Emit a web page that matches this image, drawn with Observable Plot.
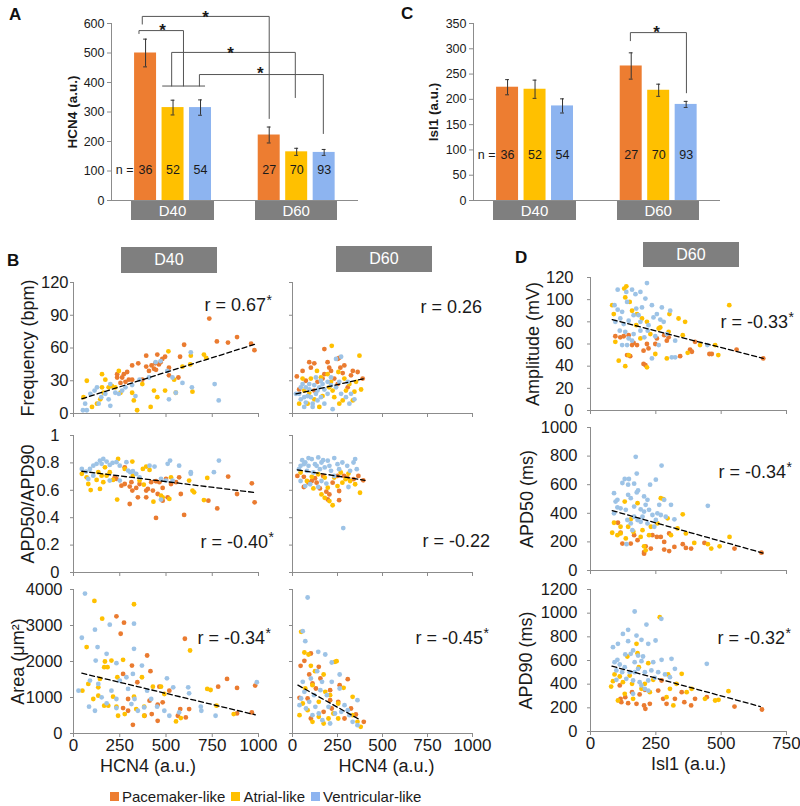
<!DOCTYPE html>
<html><head><meta charset="utf-8">
<script src="https://cdn.jsdelivr.net/npm/d3@7"></script>
<script src="https://cdn.jsdelivr.net/npm/@observablehq/plot@0.6"></script>
<style>
body{margin:0;background:#fff;}
#root{position:relative;width:800px;height:806px;font-family:Arial,"Liberation Sans",sans-serif;overflow:hidden;background:#fff;}
.box{position:absolute;background:#7f7f7f;color:#fff;display:flex;align-items:center;justify-content:center;}
.lab{position:absolute;font-weight:bold;font-size:17px;color:#111;}
</style></head><body><div id="root"></div><script>
// ---------- data ----------
const groups = ["D40", "D60"];
const cellTypes = ["Pacemaker-like", "Atrial-like", "Ventricular-like"];
const nCells = [36, 52, 54, 27, 70, 93];
const hcn4Mean = [500, 315, 315, 222, 165, 163];
const hcn4Err = [47, 25, 26, 27, 12, 10];
const isl1Mean = [224, 220, 187, 266, 218, 190];
const isl1Err = [15, 18, 14, 26, 12, 6];
// significance brackets: [slot, value] polylines
const hcn4Brackets = [
  [[-0.12, 598], [-0.12, 624], [4.5, 624], [4.5, 278]],
  [[-0.24, 566], [-0.24, 576], [1.38, 576], [1.38, 388]],
  [[0.95, 388], [0.95, 502], [5.45, 502], [5.45, 349]],
  [[1.96, 388], [1.96, 427], [6.47, 427], [6.47, 227]],
  [[0.62, 388], [2.15, 388]]
];
const hcn4Stars = [[2.18, 637], [0.62, 593], [3.09, 515], [4.18, 447]];
const isl1Brackets = [[[4.47, 316], [4.47, 332], [6.51, 332], [6.51, 213]]];
const isl1Stars = [[5.42, 342]];

const freqD40_P = [[734,87],[775,66],[835,65],[884,70],[960,64],[978,58],[598,63],[576,52],[453,54],[393,53],[480,50],[495,52],[393,43],[422,44],[350,46],[317,44],[290,38],[272,36],[263,33],[299,31],[236,33],[254,28],[408,39],[435,41],[446,40],[462,45],[471,47],[516,35],[567,33],[516,42],[236,36],[281,29],[317,31],[372,31],[442,46]];
const freqD40_A = [[72,30],[54,15],[100,6],[154,36],[172,31],[154,24],[190,24],[145,13],[208,25],[245,39],[226,24],[254,19],[317,19],[326,12],[344,3],[372,27],[435,21],[453,15],[417,6],[513,57],[495,21],[553,19],[589,43],[631,45],[643,20],[634,53],[705,54],[717,51],[544,31],[163,19],[127,9]];
const freqD40_V = [[51,3],[72,3],[63,9],[91,18],[114,21],[127,24],[150,15],[172,18],[199,27],[226,19],[245,18],[199,7],[263,21],[281,24],[317,26],[335,16],[357,31],[408,33],[444,47],[471,48],[507,39],[535,33],[553,19],[589,28],[634,56],[640,24],[763,27],[785,12],[516,13],[190,13],[136,9]];
const trendFreqD40 = [[45,13.5],[982,63.5]];

const freqD60_P = [[24,34],[56,39],[93,47],[121,46],[102,42],[177,59],[195,47],[204,42],[214,39],[260,51],[266,42],[279,37],[325,35],[335,39],[390,32],[139,29],[167,32],[232,32],[251,27],[288,44],[74,30],[37,22],[121,21],[307,24],[177,36],[251,50],[362,38]];
const freqD60_A = [[218,62],[372,53],[136,39],[102,32],[37,9],[65,21],[93,19],[149,6],[167,16],[204,24],[223,21],[232,15],[260,9],[297,21],[335,12],[344,20],[316,27],[288,32],[195,36],[158,33],[84,9],[121,13],[279,12],[353,29],[56,32],[255,38],[214,29],[381,22]];
const freqD60_V = [[37,18],[46,13],[65,15],[74,10],[84,16],[102,15],[112,9],[130,18],[139,12],[158,15],[177,9],[195,18],[223,4],[74,24],[93,27],[121,26],[149,24],[177,22],[214,26],[242,24],[270,18],[297,15],[316,9],[344,13],[242,50],[270,52],[158,30],[56,27],[130,33],[112,6],[46,24],[195,29],[307,29],[325,18],[19,18],[139,21],[167,27],[260,29],[93,22],[214,33],[65,6]];
const trendFreqD60 = [[19,18],[400,32]];

const apdD40_P = [[223,0.695],[259,0.634],[277,0.646],[304,0.627],[313,0.659],[339,0.617],[348,0.549],[304,0.5],[393,0.598],[420,0.659],[429,0.598],[446,0.666],[464,0.659],[455,0.573],[482,0.617],[500,0.683],[509,0.549],[446,0.398],[571,0.695],[580,0.573],[598,0.42],[729,0.524],[777,0.468],[836,0.7],[884,0.573],[964,0.651],[979,0.512],[277,0.768],[232,0.683],[357,0.646],[527,0.646],[393,0.549],[482,0.524],[554,0.659],[318,0.598],[402,0.61]];
const apdD40_A = [[45,0.72],[80,0.646],[93,0.602],[125,0.676],[143,0.61],[152,0.707],[170,0.768],[196,0.732],[214,0.676],[236,0.532],[241,0.829],[277,0.756],[318,0.81],[321,0.707],[357,0.671],[375,0.756],[380,0.641],[393,0.773],[411,0.749],[432,0.517],[482,0.549],[518,0.537],[527,0.695],[625,0.671],[643,0.598],[652,0.585],[705,0.529],[723,0.69],[134,0.732],[161,0.659],[179,0.707],[71,0.695],[473,0.561]];
const apdD40_V = [[45,0.756],[68,0.737],[89,0.756],[107,0.78],[125,0.793],[143,0.817],[152,0.793],[161,0.829],[179,0.81],[196,0.785],[211,0.8],[232,0.805],[250,0.78],[286,0.805],[295,0.744],[307,0.732],[321,0.739],[339,0.72],[357,0.695],[411,0.78],[438,0.773],[473,0.683],[500,0.671],[509,0.793],[522,0.817],[536,0.671],[571,0.78],[634,0.72],[634,0.732],[759,0.732],[786,0.817],[196,0.671],[107,0.707],[80,0.683],[473,0.532],[250,0.671]];
const trendApdD40 = [[45,0.739],[973,0.585]];

const apdD60_P = [[27,0.705],[63,0.698],[89,0.656],[107,0.668],[125,0.688],[63,0.624],[134,0.656],[188,0.59],[205,0.57],[196,0.533],[259,0.595],[259,0.528],[286,0.705],[304,0.693],[339,0.681],[366,0.705],[393,0.673],[223,0.656],[170,0.705],[152,0.614],[250,0.705]];
const apdD60_A = [[223,0.491],[205,0.521],[375,0.582],[348,0.644],[295,0.681],[268,0.73],[232,0.693],[179,0.693],[143,0.717],[107,0.698],[80,0.668],[116,0.614],[161,0.57],[277,0.656],[320,0.668],[45,0.73],[250,0.631],[196,0.619],[311,0.722],[179,0.545]];
const apdD60_V = [[36,0.754],[54,0.82],[71,0.803],[89,0.779],[107,0.828],[125,0.791],[143,0.84],[161,0.803],[179,0.767],[196,0.816],[232,0.835],[250,0.791],[277,0.803],[304,0.779],[348,0.828],[357,0.754],[282,0.324],[80,0.742],[116,0.73],[152,0.754],[205,0.779],[45,0.668],[71,0.631],[98,0.644],[143,0.624],[188,0.649],[232,0.705],[63,0.791],[134,0.779],[170,0.82],[214,0.742],[259,0.754],[320,0.742],[339,0.803],[45,0.779],[89,0.835],[161,0.668],[311,0.624]];
const trendApdD60 = [[27,0.749],[402,0.673]];

const areaD40_P = [[232,3255],[273,3078],[255,2771],[316,1888],[398,2167],[416,1730],[602,2632],[782,1302],[830,1516],[884,1265],[982,1330],[964,586],[884,558],[345,1423],[464,1302],[411,911],[455,800],[455,353],[423,539],[384,493],[321,242],[268,707],[295,632],[268,1655],[295,958],[577,679],[564,493],[625,679],[518,1190],[607,446],[482,865]];
const areaD40_A = [[113,3683],[327,3590],[155,3190],[71,2400],[630,2306],[170,2000],[205,2027],[268,2046],[166,1842],[184,1842],[48,1190],[80,1376],[143,1516],[237,1562],[134,1051],[107,958],[166,772],[134,1283],[188,772],[232,744],[241,493],[277,539],[327,1023],[370,1562],[382,744],[382,493],[429,1302],[473,1302],[491,1097],[554,335],[580,428],[723,1237],[741,1209],[866,539],[773,772],[339,679],[214,1023]];
const areaD40_V = [[62,3887],[45,2660],[116,2883],[130,2400],[120,2027],[196,3022],[179,2213],[232,1953],[179,837],[84,744],[116,632],[89,1469],[152,1004],[205,1190],[232,958],[232,707],[286,1562],[295,1237],[321,1655],[327,3050],[327,2353],[330,958],[348,632],[370,1888],[398,1190],[420,958],[452,744],[491,632],[505,1534],[518,493],[539,1283],[571,586],[620,1283],[625,1116],[688,744],[691,632],[768,493],[991,1423],[382,725],[313,818],[250,1469],[134,1376],[27,1190]];
const trendAreaD40 = [[45,1674],[982,521]];

const areaD60_P = [[66,2019],[102,2222],[45,1880],[93,1639],[146,1852],[111,1389],[155,1528],[130,1250],[39,991],[209,1204],[307,1509],[254,880],[262,1343],[325,694],[352,528],[396,324],[289,417],[102,417],[173,602],[218,694],[209,926],[84,972]];
const areaD60_A = [[48,2824],[66,2250],[89,2195],[102,1880],[236,1991],[245,2009],[173,1639],[125,1732],[71,1250],[111,1343],[182,1157],[209,1065],[284,1269],[334,1019],[254,833],[57,833],[84,648],[146,463],[200,417],[254,417],[334,509],[361,324],[379,185],[146,880],[39,509],[227,556],[111,324],[173,278]];
const areaD60_V = [[84,3778],[57,2843],[71,2565],[143,2269],[182,2195],[218,1972],[262,1639],[57,1435],[102,1528],[137,1732],[164,1435],[155,1204],[191,1065],[93,880],[127,741],[111,509],[200,741],[236,556],[271,602],[289,787],[316,509],[361,926],[334,324],[361,231],[209,278],[166,370],[66,1157],[75,694],[120,1065],[218,1435],[262,1250],[146,556],[307,648],[39,787],[48,972]];
const trendAreaD60 = [[30,1343],[379,370]];

const ampD60_P = [[114,66],[127,67],[146,68],[95,67],[159,59],[165,61],[140,50],[152,49],[203,54],[222,56],[216,60],[248,60],[203,42],[210,41],[292,63],[299,66],[282,68],[343,49],[381,55],[388,53],[400,62],[455,51],[464,51],[559,55],[661,47],[254,65],[178,59]];
const ampD60_A = [[137,112],[129,110],[150,98],[133,102],[159,90],[178,87],[89,87],[83,95],[175,77],[197,83],[216,80],[261,74],[267,75],[229,69],[299,71],[337,83],[362,80],[353,68],[302,87],[531,95],[477,59],[489,50],[419,59],[372,52],[292,47],[216,39],[133,40],[108,45],[146,50],[95,62],[191,65],[248,51]];
const ampD60_V = [[104,109],[92,95],[104,91],[121,89],[137,107],[140,98],[159,109],[172,105],[191,107],[216,115],[197,93],[210,101],[184,86],[165,86],[146,81],[127,78],[112,72],[95,80],[133,71],[146,65],[165,69],[191,72],[206,66],[222,77],[241,84],[254,87],[267,82],[280,80],[305,90],[273,93],[235,95],[248,67],[140,59],[121,59],[159,63],[235,47],[311,48],[324,48],[324,63],[292,69],[261,59],[447,59],[175,92],[114,83],[191,80],[219,72]];
const trendAmp = [[83,82],[661,47]];

const apd50_P = [[105,334],[115,264],[122,188],[154,188],[167,247],[180,212],[211,169],[205,129],[205,118],[231,153],[237,247],[254,235],[269,235],[282,146],[301,136],[282,200],[321,165],[353,184],[365,158],[385,153],[436,193],[551,153],[654,125],[301,259]];
const apd50_A = [[131,482],[180,471],[269,506],[279,499],[90,334],[115,306],[144,306],[164,271],[199,282],[224,247],[256,329],[295,365],[333,294],[353,393],[365,259],[397,193],[449,184],[494,169],[532,235],[462,153],[308,247],[205,169],[211,141],[83,264],[103,247],[135,224],[154,358],[192,235],[231,306],[115,259]];
const apd50_V = [[173,795],[272,734],[177,678],[131,640],[147,640],[122,612],[167,607],[144,600],[228,600],[250,635],[182,560],[177,546],[144,529],[90,541],[96,482],[154,506],[205,518],[218,494],[282,494],[308,459],[449,452],[103,442],[115,435],[135,424],[167,447],[192,428],[205,412],[237,388],[256,400],[269,388],[288,376],[167,376],[180,353],[192,341],[141,353],[154,329],[218,329],[244,306],[321,358],[90,400],[103,494],[211,459],[199,376],[224,424],[250,353],[263,459],[160,282],[138,184]];
const trendApd50 = [[83,419],[660,122]];

const apd90_P = [[112,389],[115,276],[133,290],[159,332],[144,239],[118,248],[176,234],[205,220],[210,192],[227,234],[259,346],[278,276],[291,234],[323,276],[359,248],[385,220],[400,276],[445,290],[551,211],[656,186],[208,352],[188,313],[272,431],[349,332]];
const apd90_A = [[265,966],[92,482],[112,465],[86,425],[79,380],[150,473],[180,662],[185,544],[176,741],[141,634],[221,577],[297,482],[349,487],[329,403],[304,361],[291,290],[317,220],[368,332],[387,361],[438,276],[477,262],[490,268],[528,341],[159,403],[195,361],[227,332],[131,318],[163,276],[105,262],[208,403],[124,417],[240,437]];
const apd90_V = [[169,1014],[214,904],[144,859],[124,825],[176,811],[144,763],[195,775],[249,769],[271,952],[86,713],[105,741],[221,741],[163,685],[182,642],[133,651],[154,656],[201,634],[103,606],[92,586],[112,566],[131,544],[169,586],[195,594],[240,586],[272,606],[310,614],[445,572],[99,516],[121,501],[150,501],[182,530],[208,501],[233,516],[259,501],[285,482],[137,445],[163,431],[188,417],[221,431],[246,454],[304,459],[323,530],[99,437],[169,501],[208,361],[195,389],[221,346],[163,318]];
const trendApd90 = [[82,552],[650,211]];

const hcnTicks = [0, 250, 500, 750, 1000];
const islTicks = [0, 250, 500, 750];

// ---------- style ----------
const FONT = 'Arial, "Liberation Sans", sans-serif';
const TXT = "#1a1a1a";
const AXIS = "#8c8c8c";
const barColors = ["#ED7D31", "#FFC000", "#8DB4F0"];
const dotColors = ["#EA7B30", "#FFC000", "#9DC3E6"];

const root = document.getElementById("root");
const ctx = document.createElement("canvas").getContext("2d");
function textW(t, size) { ctx.font = `${size}px ${FONT}`; return ctx.measureText(t).width; }
function place(node, left, top) {
  node.style.position = "absolute"; node.style.left = left + "px"; node.style.top = top + "px";
  root.appendChild(node);
}
function box(text, left, top, w, h, size) {
  const d = document.createElement("div");
  d.className = "box"; d.textContent = text;
  d.style.left = left + "px"; d.style.top = top + "px"; d.style.width = w + "px"; d.style.height = h + "px";
  d.style.fontSize = size + "px";
  root.appendChild(d);
}
function letter(t, left, top) {
  const d = document.createElement("div"); d.className = "lab"; d.textContent = t;
  d.style.left = left + "px"; d.style.top = top + "px"; root.appendChild(d);
}

// ---------- bar charts ----------
function barChart(o) {
  const rows = o.means.map((m, i) => ({
    type: cellTypes[i % 3], group: groups[Math.floor(i / 3)],
    slot: Math.floor(i / 3) * 4.5 + (i % 3), mean: m, err: o.errs[i], n: nCells[i]
  }));
  const xd = [-1.24, 7.75];
  const bpts = [];
  o.brackets.forEach((b, bi) => b.forEach(([x, y]) => bpts.push({id: bi, x, y})));
  const p = Plot.plot({
    width: 400, height: 230, marginLeft: o.mLeft, marginRight: o.mRight, marginTop: 23, marginBottom: 30,
    style: {background: "none", overflow: "visible", fontFamily: FONT},
    x: {domain: xd},
    y: {domain: [0, o.yMax]},
    color: {domain: cellTypes, range: barColors},
    marks: [
      Plot.rect(rows, {x1: d => d.slot - 0.4, x2: d => d.slot + 0.4, y1: () => 0, y2: "mean", fill: "type"}),
      Plot.ruleX(rows, {x: "slot", y1: d => d.mean - d.err, y2: d => d.mean + d.err, stroke: "#333", strokeWidth: 1}),
      Plot.ruleY(rows, {x1: d => d.slot - 0.07, x2: d => d.slot + 0.07, y: d => d.mean + d.err, stroke: "#333"}),
      Plot.ruleY(rows, {x1: d => d.slot - 0.07, x2: d => d.slot + 0.07, y: d => d.mean - d.err, stroke: "#333"}),
      Plot.ruleY([0], {stroke: AXIS}),
      Plot.ruleX([xd[0]], {stroke: AXIS}),
      Plot.axisX({ticks: [], tickSize: 0, label: null}),
      Plot.axisY({ticks: d3.range(0, o.yMax + 1, o.yStep), tickSize: 4, tickPadding: 3, fontSize: 12.5,
        stroke: AXIS, fill: TXT, label: null, tickFormat: d => String(d)}),
      Plot.text(rows, {x: "slot", text: "n", frameAnchor: "bottom", dy: -o.nDy, fontSize: 12.5, fill: TXT}),
      Plot.text(rows.slice(0, 1), {x: "slot", text: () => "n =", frameAnchor: "bottom", dy: -o.nDy, dx: -12, textAnchor: "end", fontSize: 12.5, fill: TXT}),
      Plot.text([o.yLabel], {text: d => d, frameAnchor: "left", textAnchor: "middle", dx: o.labelDx, rotate: -90, fontWeight: "bold", fontSize: 13.5, fill: TXT}),
      Plot.line(bpts, {x: "x", y: "y", z: "id", stroke: "#555", strokeWidth: 1}),
      Plot.text(o.stars, {x: d => d[0], y: d => d[1], text: () => "*", dy: 5, fontSize: 17, fontWeight: "bold", fill: TXT})
    ]
  });
  place(p, o.left, 0);
  const xs = p.scale("x");
  groups.forEach((g, gi) => {
    const a = xs.apply(gi * 4.5 - 0.5), b = xs.apply(gi * 4.5 + 2.5);
    box(g, o.left + a, 201, b - a, 19, 15);
  });
}

barChart({left: 0, mLeft: 111, mRight: 42, means: hcn4Mean, errs: hcn4Err, yMax: 600, yStep: 100,
  yLabel: "HCN4 (a.u.)", labelDx: -39, brackets: hcn4Brackets, stars: hcn4Stars, nDy: 27});
barChart({left: 400, mLeft: 73, mRight: 80, means: isl1Mean, errs: isl1Err, yMax: 350, yStep: 50,
  yLabel: "Isl1 (a.u.)", labelDx: -40, brackets: isl1Brackets, stars: isl1Stars, nDy: 42});

// ---------- scatter plots ----------
function scatter(o) {
  const pts = [];
  o.series.forEach((arr, ti) => arr.forEach(([x, y]) => pts.push({x, y, type: cellTypes[ti]})));
  const rSize = 18;
  const marks = [
    Plot.ruleY([o.yDomain[0]], {stroke: AXIS}),
    Plot.ruleX([o.xDomain[0]], {stroke: AXIS}),
    Plot.axisX({ticks: o.xTicks, tickSize: 4, tickPadding: 1, fontSize: 17, stroke: AXIS, fill: TXT, label: null,
      tickFormat: o.xLabels ? d => String(d) : () => ""}),
    Plot.axisY({ticks: o.yTicks, tickSize: 3, tickPadding: o.yPad || 4, fontSize: 16.5, stroke: AXIS, fill: TXT, label: null,
      tickFormat: o.yLabels ? (o.yFormat || (d => String(d))) : () => ""}),
    Plot.dot(pts, {x: "x", y: "y", fill: "type", r: 2.4}),
    Plot.line(o.trend, {x: d => d[0], y: d => d[1], stroke: "#000", strokeWidth: 1.3, strokeDasharray: "5,3"}),
    Plot.text([o.r], {text: d => d, frameAnchor: o.rAnchor, textAnchor: "start", lineAnchor: "bottom",
      dx: o.rDx, dy: o.rDy, fontSize: rSize, fill: TXT})
  ];
  if (o.sig) marks.push(Plot.text(["*"], {text: d => d, frameAnchor: o.rAnchor, textAnchor: "start", lineAnchor: "bottom",
      dx: o.rDx + textW(o.r, rSize) + 0.5, dy: o.rDy - 6, fontSize: 14, fill: TXT}));
  if (o.yTitle) marks.push(Plot.text([o.yTitle], {text: d => d, frameAnchor: "left", textAnchor: "middle", rotate: -90, dx: o.yTitleDx, fontSize: 18, fill: TXT}));
  if (o.xTitle) marks.push(Plot.text([o.xTitle], {text: d => d, frameAnchor: "bottom", textAnchor: "middle", dx: o.xTitleDx, dy: 38, fontSize: 18, fill: TXT}));
  const p = Plot.plot({
    width: o.w, height: o.h, marginLeft: 0, marginRight: 0, marginTop: 0, marginBottom: 0,
    style: {background: "none", overflow: "visible", fontFamily: FONT},
    x: {domain: o.xDomain}, y: {domain: o.yDomain},
    color: {domain: cellTypes, range: dotColors},
    marks
  });
  place(p, o.left, o.top);
}

const colB1 = {left: 73, w: 185, xDomain: [0, 1000], xTicks: hcnTicks};
const colB2 = {left: 292, w: 180, xDomain: [0, 1000], xTicks: hcnTicks};
const colD = {left: 590, w: 196, xDomain: [0, 750], xTicks: islTicks};
const fmt1 = d => String(Math.round(d * 10) / 10);

scatter({...colB1, top: 282, h: 131, yDomain: [0, 120], yTicks: [0, 30, 60, 90, 120], yLabels: true, yPad: 2,
  series: [freqD40_P, freqD40_A, freqD40_V], trend: trendFreqD40, r: "r = 0.67", sig: true, rAnchor: "top-right", rDx: -54, rDy: 28,
  yTitle: "Frequency (bpm)", yTitleDx: -45});
scatter({...colB2, top: 282, h: 131, yDomain: [0, 120], yTicks: [0, 30, 60, 90, 120], yLabels: false,
  series: [freqD60_P, freqD60_A, freqD60_V], trend: trendFreqD60, r: "r = 0.26", sig: false, rAnchor: "top-right", rDx: -52, rDy: 30});
scatter({...colB1, top: 435, h: 137, yDomain: [0, 1], yTicks: [0, 0.2, 0.4, 0.6, 0.8, 1], yLabels: true, yPad: 11, yFormat: fmt1,
  series: [apdD40_P, apdD40_A, apdD40_V], trend: trendApdD40, r: "r = -0.40", sig: true, rAnchor: "bottom-right", rDx: -58, rDy: -25,
  yTitle: "APD50/APD90", yTitleDx: -45});
scatter({...colB2, top: 435, h: 137, yDomain: [0, 1], yTicks: [0, 0.2, 0.4, 0.6, 0.8, 1], yLabels: false,
  series: [apdD60_P, apdD60_A, apdD60_V], trend: trendApdD60, r: "r = -0.22", sig: false, rAnchor: "bottom-right", rDx: -50, rDy: -26});
scatter({...colB1, top: 589, h: 144, yDomain: [0, 4000], yTicks: [0, 1000, 2000, 3000, 4000], yLabels: true, yPad: 8, xLabels: true,
  series: [areaD40_P, areaD40_A, areaD40_V], trend: trendAreaD40, r: "r = -0.34", sig: true, rAnchor: "top-right", rDx: -61, rDy: 54,
  yTitle: "Area (\u03bcm\u00b2)", yTitleDx: -55, xTitle: "HCN4 (a.u.)", xTitleDx: -18});
scatter({...colB2, top: 589, h: 144, yDomain: [0, 4000], yTicks: [0, 1000, 2000, 3000, 4000], yLabels: false, xLabels: true,
  series: [areaD60_P, areaD60_A, areaD60_V], trend: trendAreaD60, r: "r = -0.45", sig: true, rAnchor: "top-right", rDx: -57, rDy: 54,
  xTitle: "HCN4 (a.u.)", xTitleDx: 4});
scatter({...colD, top: 277, h: 133, yDomain: [0, 120], yTicks: [0, 20, 40, 60, 80, 100, 120], yLabels: true, yPad: 14,
  series: [ampD60_P, ampD60_A, ampD60_V], trend: trendAmp, r: "r = -0.33", sig: true, rAnchor: "top-right", rDx: -66, rDy: 50,
  yTitle: "Amplitude (mV)", yTitleDx: -57});
scatter({...colD, top: 427, h: 143, yDomain: [0, 1000], yTicks: [0, 200, 400, 600, 800, 1000], yLabels: true, yPad: 10,
  series: [apd50_P, apd50_A, apd50_V], trend: trendApd50, r: "r = -0.34", sig: true, rAnchor: "top-right", rDx: -68, rDy: 50,
  yTitle: "APD50 (ms)", yTitleDx: -63});
scatter({...colD, top: 589, h: 142, yDomain: [0, 1200], yTicks: [0, 200, 400, 600, 800, 1000, 1200], yLabels: true, yPad: 10, xLabels: true,
  series: [apd90_P, apd90_A, apd90_V], trend: trendApd90, r: "r = -0.32", sig: true, rAnchor: "top-right", rDx: -69, rDy: 54,
  yTitle: "APD90 (ms)", yTitleDx: -64, xTitle: "Isl1 (a.u.)", xTitleDx: 0});

// headers
box("D40", 121, 247, 96, 26, 16);
box("D60", 336, 246, 96, 26, 16);
box("D60", 643, 242, 96, 25, 16);

// panel letters
letter("A", 9, 5);
letter("C", 401, 4);
letter("B", 7, 251);
letter("D", 515, 248);

// legend
const leg = document.createElement("div");
leg.style.cssText = "position:absolute;left:110px;top:788px;display:flex;align-items:center;font-size:15px;color:#1a1a1a;";
cellTypes.forEach((t, i) => {
  const s = document.createElement("span");
  s.style.cssText = `display:inline-block;width:9px;height:9px;background:${barColors[i]};margin-right:3px;margin-left:${i ? 6 : 0}px;`;
  const l = document.createElement("span"); l.textContent = t;
  leg.appendChild(s); leg.appendChild(l);
});
root.appendChild(leg);
</script></body></html>
